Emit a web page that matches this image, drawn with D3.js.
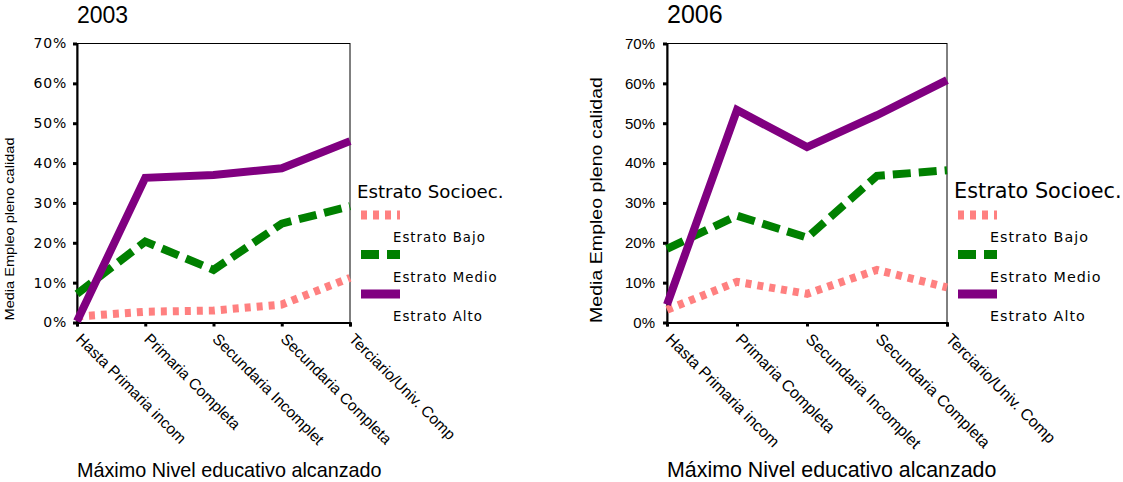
<!DOCTYPE html>
<html><head><meta charset="utf-8">
<script src="https://cdn.jsdelivr.net/npm/d3@7"></script>
<style>body{margin:0;background:#fff}svg{display:block}</style>
</head><body>
<svg id="c" width="1123" height="482"></svg>
<script>
const categories = ["Hasta Primaria incom","Primaria Completa","Secundaria Incomplet","Secundaria Completa","Terciario/Univ. Comp"];
const yTicks = [0,10,20,30,40,50,60,70];
const seriesNames = ["Estrato Bajo","Estrato Medio","Estrato Alto"];
const bajo2003  = [1.5, 2.7, 3.0, 4.5, 11.2];
const medio2003 = [7.2, 20.3, 13.2, 24.8, 29.2];
const alto2003  = [0.3, 36.3, 37.0, 38.7, 45.5];
const bajo2006  = [3.2, 10.2, 7.2, 13.2, 8.8];
const medio2006 = [18.5, 26.8, 21.3, 36.8, 38.2];
const alto2006  = [4.5, 53.3, 44.0, 52.0, 60.8];

const styles = [
  {color:"#ff8080", dash:"6,6", w:8},
  {color:"#008000", dash:"18,8", w:8},
  {color:"#800080", dash:null, w:8}
];

const svg = d3.select("#c");
const ARIAL = "Liberation Sans, Arial";
const VERD = "DejaVu Sans, Verdana";

function drawChart(cfg){
  const g = svg.append("g");
  const x = d3.scalePoint().domain(categories).range([cfg.x0, cfg.x1]).padding(0);
  const y = d3.scaleLinear().domain([0,70]).range([322.5, 43.5]);

  // title
  g.append("text").attr("x", cfg.x0).attr("y", 23).attr("font-family",ARIAL).attr("font-size",cfg.titleSize).text(cfg.title);

  // frame
  g.append("rect").attr("x",cfg.x0).attr("y",y(70)).attr("width",cfg.x1-cfg.x0).attr("height",y(0)-y(70))
    .attr("fill","none").attr("stroke","#000").attr("stroke-width",1);

  // y axis
  const ya = d3.axisLeft(y).tickValues(yTicks).tickSize(4).tickFormat(d=>d+"%");
  const yg = g.append("g").attr("transform",`translate(${cfg.x0},0)`).call(ya);
  yg.select(".domain").attr("stroke","#000").attr("stroke-width",2);
  yg.selectAll(".tick line").attr("stroke","#000").attr("stroke-width",3);
  yg.selectAll(".tick text").attr("x",-cfg.tickGap).attr("font-family",cfg.yFont).attr("font-size",cfg.yFontSize)
    .attr("letter-spacing",cfg.yLS).attr("fill","#000");

  // x axis
  const xa = d3.axisBottom(x).tickSize(4).tickFormat("");
  const xg = g.append("g").attr("transform","translate(0,322.5)").call(xa);
  xg.select(".domain").attr("stroke","#000").attr("stroke-width",2);
  xg.selectAll(".tick line").attr("stroke","#000").attr("stroke-width",3);
  g.selectAll(".xl").data(categories).enter().append("text")
    .attr("transform",d=>`translate(${x(d)+6},332) rotate(45)`)
    .attr("dy","0.72em").attr("font-family",ARIAL).attr("font-size",cfg.xlSize).text(d=>d);

  // y title
  g.append("text").attr("transform",`translate(${cfg.ytX},${cfg.ytY}) rotate(-90)`).attr("text-anchor","middle")
    .attr("font-family",ARIAL).attr("font-size",cfg.ytSize)
    .attr("textLength",cfg.ytLen).attr("lengthAdjust","spacingAndGlyphs").text("Media Empleo pleno calidad");

  // x title
  g.append("text").attr("x",cfg.x0).attr("y",477).attr("font-family",ARIAL).attr("font-size",cfg.xtSize)
    .text("Máximo Nivel educativo alcanzado");

  // lines
  const line = d3.line().x((d,i)=>x(categories[i])).y(d=>y(d));
  cfg.series.forEach((s,k)=>{
    g.append("path").datum(s).attr("d",line).attr("fill","none").attr("stroke",styles[k].color)
      .attr("stroke-width",styles[k].w).attr("stroke-dasharray",styles[k].dash).attr("stroke-linejoin","miter");
  });

  // legend
  const lg = g.append("g");
  lg.append("text").attr("x",cfg.lx).attr("y",198).attr("font-family",VERD).attr("font-size",cfg.ltSize).text("Estrato Socioec.");
  seriesNames.forEach((n,k)=>{
    const sy = 215 + k*39.5;
    lg.append("line").attr("x1",cfg.lx+4).attr("x2",cfg.lx+43).attr("y1",sy).attr("y2",sy)
      .attr("stroke",styles[k].color).attr("stroke-width",9).attr("stroke-dasharray",styles[k].dash);
    lg.append("text").attr("x",cfg.lx+36).attr("y",sy+27).attr("font-family",VERD).attr("font-size",cfg.llSize)
      .attr("letter-spacing",1).text(n);
  });
}

drawChart({title:"2003", titleSize:23, x0:77, x1:350, tickGap:10, yFont:VERD, yFontSize:14, yLS:0.8,
  xlSize:15.5, xtSize:19.8, ytX:14, ytY:229, ytSize:13, ytLen:183, lx:357, ltSize:18.2, llSize:13.3,
  series:[bajo2003, medio2003, alto2003]});
drawChart({title:"2006", titleSize:25, x0:667, x1:947, tickGap:12, yFont:ARIAL, yFontSize:15, yLS:0,
  xlSize:16, xtSize:21.4, ytX:602, ytY:200, ytSize:17, ytLen:246, lx:954, ltSize:20.8, llSize:14.3,
  series:[bajo2006, medio2006, alto2006]});
</script>
</body></html>
